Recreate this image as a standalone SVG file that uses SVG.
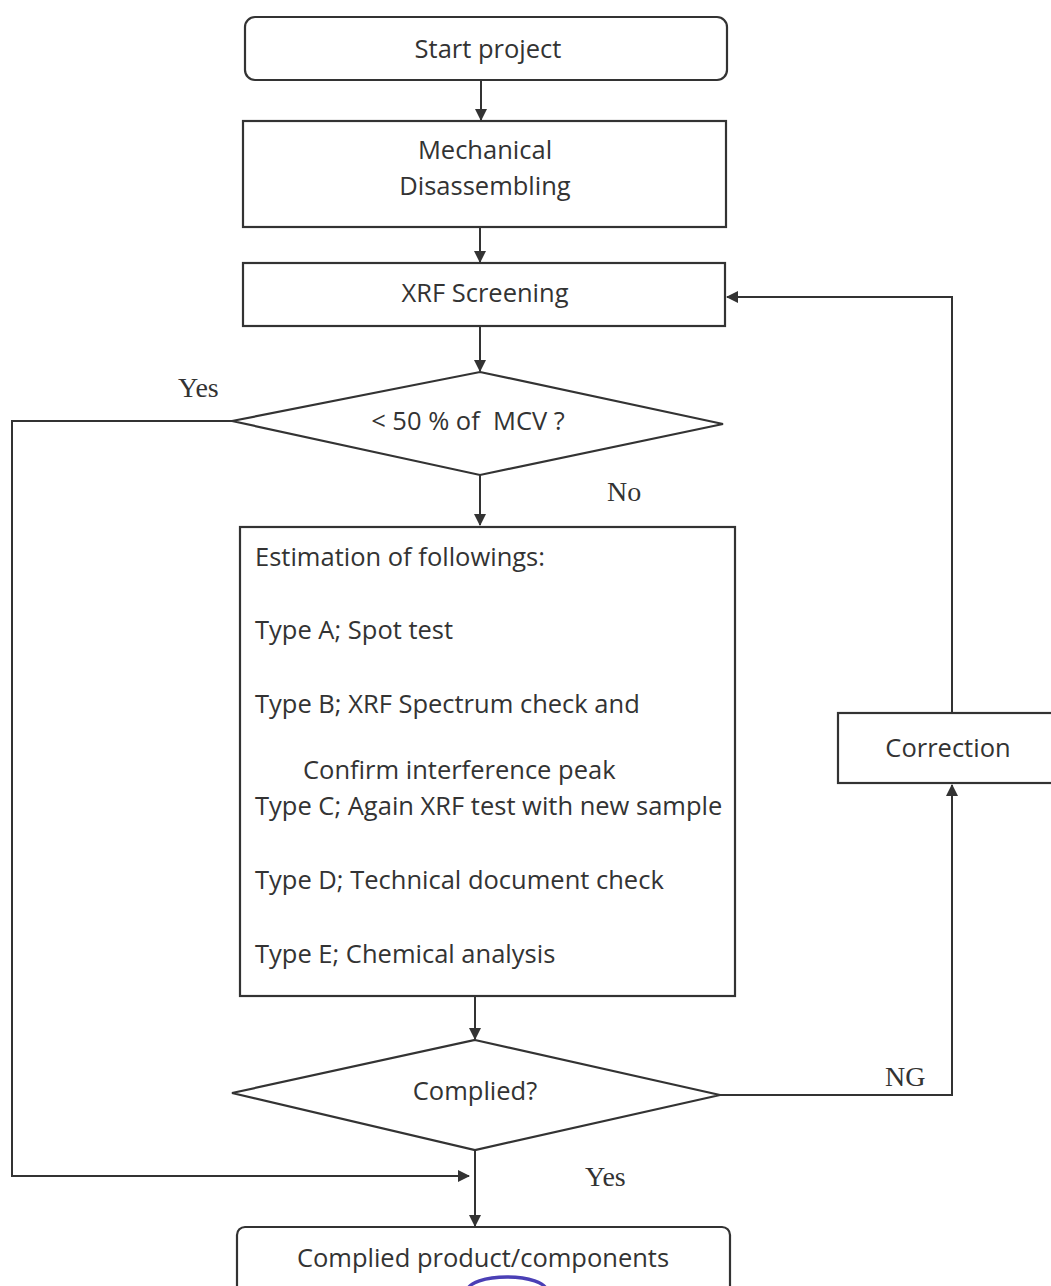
<svg xmlns="http://www.w3.org/2000/svg" width="1051" height="1286" viewBox="0 0 1051 1286">
<style>
.box{fill:#fff;stroke:#333;stroke-width:2.2}
.ln{fill:none;stroke:#333;stroke-width:2}
.t{font-family:"Open Sans","Liberation Sans",sans-serif;font-size:25.5px;fill:#333}
.c{text-anchor:middle}
.s{font-family:"Liberation Serif",serif;font-size:28px;fill:#333}
</style>
<defs>
<marker id="a" viewBox="0 0 12 12" refX="11" refY="6" markerWidth="12" markerHeight="12" markerUnits="userSpaceOnUse" orient="auto">
<path d="M0,0 L12,6 L0,12 z" fill="#333"/>
</marker>
</defs>
<rect width="1051" height="1286" fill="#fff"/>
<g id="connectors">
<line class="ln" x1="481" y1="80" x2="481" y2="120" marker-end="url(#a)"/>
<line class="ln" x1="480" y1="227" x2="480" y2="262" marker-end="url(#a)"/>
<line class="ln" x1="480" y1="326" x2="480" y2="371" marker-end="url(#a)"/>
<line class="ln" x1="480" y1="475" x2="480" y2="525" marker-end="url(#a)"/>
<line class="ln" x1="475" y1="996" x2="475" y2="1039" marker-end="url(#a)"/>
<polyline class="ln" points="232,421 12,421 12,1176 469,1176" marker-end="url(#a)"/>
<line class="ln" x1="475" y1="1150" x2="475" y2="1226" marker-end="url(#a)"/>
<polyline class="ln" points="720,1095 952,1095 952,785" marker-end="url(#a)"/>
<polyline class="ln" points="952,713 952,297 727,297" marker-end="url(#a)"/>
<text class="s" x="178" y="397">Yes</text>
<text class="s" x="607" y="501">No</text>
<text class="s" x="885" y="1086">NG</text>
<text class="s" x="585" y="1186">Yes</text>
</g>
<g id="start">
<rect class="box" x="245" y="17" width="482" height="63" rx="10"/>
<text class="t c" x="488" y="58">Start project</text>
</g>
<g id="disassembling">
<rect class="box" x="243" y="121" width="483" height="106"/>
<text class="t c" x="485" y="159">Mechanical</text>
<text class="t c" x="485" y="195">Disassembling</text>
</g>
<g id="xrf">
<rect class="box" x="243" y="263" width="482" height="63"/>
<text class="t c" x="485" y="302">XRF Screening</text>
</g>
<g id="decision1">
<polygon class="box" points="480,372 723,424 480,475 232,421"/>
<text class="t c" x="468" y="430" font-size="24px" xml:space="preserve">&lt; 50 % of  MCV ?</text>
</g>
<g id="estimation">
<rect class="box" x="240" y="527" width="495" height="469"/>
<text class="t" x="255" y="566">Estimation of followings:</text>
<text class="t" x="255" y="639">Type A; Spot test</text>
<text class="t" x="255" y="713">Type B; XRF Spectrum check and</text>
<text class="t" x="303" y="779">Confirm interference peak</text>
<text class="t" x="255" y="815">Type C; Again XRF test with new sample</text>
<text class="t" x="255" y="889">Type D; Technical document check</text>
<text class="t" x="255" y="963">Type E; Chemical analysis</text>
</g>
<g id="decision2">
<polygon class="box" points="475,1040 720,1095 475,1150 232,1093"/>
<text class="t c" x="475" y="1100">Complied?</text>
</g>
<g id="correction">
<rect class="box" x="838" y="713" width="220" height="70"/>
<text class="t c" x="948" y="757">Correction</text>
</g>
<g id="complied">
<rect class="box" x="237" y="1227" width="493" height="70" rx="8"/>
<text class="t c" x="483" y="1267">Complied product/components</text>
</g>
<path d="M468,1290 A39,13 0 0 1 546,1290" fill="none" stroke="#4a3fb5" stroke-width="3.5"/>
</svg>
